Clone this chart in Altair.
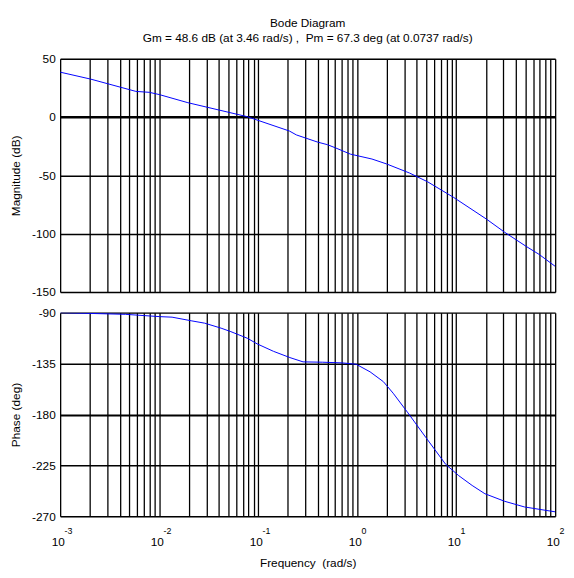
import altair as alt
import pandas as pd

# ---- data ----
mag_freq = [0.001, 0.00204, 0.00582, 0.00794, 0.01, 0.0195, 0.0776, 0.207, 0.243,
            0.399, 0.501, 0.607, 0.855, 1.41, 1.98, 3.38, 5.14, 9.46, 20.3, 30.9,
            50.7, 68.9, 100]
mag_db = [38.5, 32.5, 22.0, 21.2, 19.3, 12.3, 0.3, -12.0, -15.3,
          -21.5, -23.7, -26.5, -31.8, -36.0, -40.2, -48.0, -55.5, -69.0, -87.6, -98.8,
          -110.8, -117.8, -128.0]

phase_freq = [0.001, 0.00457, 0.01, 0.0135, 0.0214, 0.0288, 0.0422, 0.053, 0.0776,
              0.0977, 0.143, 0.209, 0.284, 0.447, 0.708, 0.977, 1.35, 1.84, 2.31,
              3.26, 4.95, 7.83, 10.6, 14.5, 19.5, 30.9, 49.0, 100]
phase_deg = [-90.0, -91.5, -93.5, -94.0, -97.3, -99.3, -103.7, -106.8, -112.6,
             -117.6, -124.2, -129.7, -133.5, -133.8, -134.4, -135.6, -142.3, -151.0, -161.2,
             -178.6, -200.4, -224.0, -234.0, -242.7, -250.0, -256.7, -261.7, -266.0]

decades = [0.001, 0.01, 0.1, 1, 10, 100]
decade_exp = ["-3", "-2", "-1", "0", "1", "2"]
mantissas = [1, 2, 3, 4, 5, 6, 7, 8, 9]
grid_freqs = [m * d for d in decades[:-1] for m in mantissas] + [100]

mag_ticks = [-150, -100, -50, 0, 50]
phase_ticks = [-270, -225, -180, -135, -90]

title_lines = ["Bode Diagram",
               "Gm = 48.6 dB (at 3.46 rad/s) ,\u00a0 Pm = 67.3 deg (at 0.0737 rad/s)"]
mag_title = "Magnitude (dB)"
phase_title = "Phase (deg)"
freq_title = "Frequency\u00a0 (rad/s)"

FONT = "Liberation Sans"
W = 503
H1 = 237
H2 = 207

mag_df = pd.DataFrame({"f": mag_freq, "v": mag_db})
phase_df = pd.DataFrame({"f": phase_freq, "v": phase_deg})
exp_df = pd.DataFrame({"f": decades, "e": decade_exp})

xscale = alt.Scale(type="log", domain=[0.001, 100], nice=False)


def yaxis(values, title, h, grid_width):
    return alt.Axis(values=values, title=title, grid=True, gridColor="black",
                    gridWidth=grid_width, gridOpacity=1, ticks=False, domain=False,
                    labelExpr="'' + datum.value",
                    labelPadding=5, labelFontSize=12, labelFont=FONT, labelColor="black",
                    titleFont=FONT, titleFontSize=12, titleFontWeight="normal",
                    titleColor="black", titleX=-45, titleY=h / 2, titleAngle=270,
                    titleAlign="center", titleBaseline="middle")


mag_line = alt.Chart(mag_df).mark_line(color="#0000ff", strokeWidth=1, clip=True).encode(
    x=alt.X("f:Q", scale=xscale,
            axis=alt.Axis(values=grid_freqs, grid=True, gridColor="black", gridWidth=1.3,
                          gridOpacity=1, labels=False, ticks=False, domain=False, title=None,
                          labelPadding=0, minExtent=0, maxExtent=0)),
    y=alt.Y("v:Q", scale=alt.Scale(domain=[-150, 50], nice=False, zero=False),
            axis=yaxis(mag_ticks, mag_title, H1,
                       {"condition": {"test": "datum.value === 0", "value": 2.4},
                        "value": 1.5})),
)


def title_text(line, ypos):
    return alt.Chart(pd.DataFrame({"t": [line]})).mark_text(
        align="center", baseline="alphabetic", fontSize=12, font=FONT, color="black"
    ).encode(x=alt.value(W / 2), y=alt.value(ypos), text="t:N")


top = alt.layer(mag_line, title_text(title_lines[0], -31.8),
                title_text(title_lines[1], -16.8)).properties(width=W, height=H1)

phase_line = alt.Chart(phase_df).mark_line(color="#0000ff", strokeWidth=1, clip=True).encode(
    x=alt.X("f:Q", scale=xscale,
            axis=alt.Axis(values=grid_freqs, grid=True, gridColor="black", gridWidth=1.3,
                          gridOpacity=1, ticks=False, domain=False,
                          labelExpr="abs(log(datum.value)/LN10 - round(log(datum.value)/LN10)) < 0.01 ? '10' : ''",
                          labelFlush=False, labelPadding=21, labelOffset=-2.5,
                          labelFontSize=12, labelFont=FONT,
                          labelColor="black", labelOverlap=False,
                          title=freq_title, titleFont=FONT, titleFontSize=12,
                          titleFontWeight="normal", titleColor="black",
                          titleX=W / 2, titleY=50.5, titleBaseline="alphabetic",
                          titleAlign="center")),
    y=alt.Y("v:Q", scale=alt.Scale(domain=[-270, -90], nice=False, zero=False),
            axis=yaxis(phase_ticks, phase_title, H2,
                       {"condition": {"test": "datum.value === -180", "value": 2},
                        "value": 1.5})),
)

exps = alt.Chart(exp_df).mark_text(align="left", baseline="alphabetic", dx=4.5,
                                   fontSize=9, font=FONT, color="black").encode(
    x=alt.X("f:Q", scale=xscale),
    y=alt.value(H2 + 17.8),
    text="e:N",
)

bottom = alt.layer(phase_line, exps).properties(width=W, height=H2)

# the layout spaces the panels by their full bounds (tick labels stick out 6px each)
chart = alt.vconcat(top, bottom, spacing=7).properties(
    padding={"left": 1, "top": 4, "right": 0, "bottom": 0},
).configure_view(stroke="black", strokeWidth=1.5).configure(background="white")

chart.save("out.html", embed_options={"renderer": "svg", "actions": False})
